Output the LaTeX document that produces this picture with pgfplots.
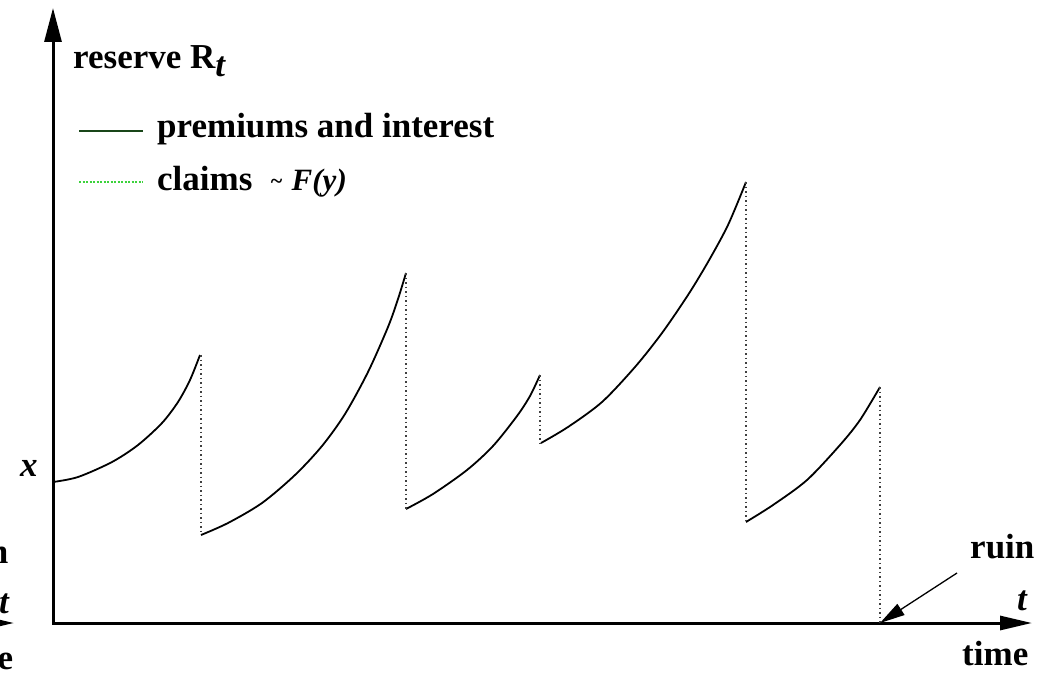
\documentclass[border=0pt]{standalone}
\usepackage{fontspec}
\setmainfont{Liberation Serif}
\usepackage{pgfplots}
\pgfplotsset{compat=1.18}
\usetikzlibrary{arrows.meta}
\tikzset{
  lab/.style={font=\fontsize{35}{40}\selectfont\bfseries, inner sep=0pt, anchor=base west},
  labi/.style={font=\fontsize{35}{40}\selectfont\bfseries\itshape, inner sep=0pt, anchor=base west},
  claim/.style={line width=1.3pt, black!75, dash pattern=on 1.5pt off 3pt},
  prem/.style={line width=1.8pt, black, smooth},
}
\begin{document}
\begin{tikzpicture}
\begin{axis}[
  width=1054pt, height=677pt, scale only axis,
  xmin=0, xmax=1054, ymin=0, ymax=677, y dir=reverse,
  hide axis, clip=false,
]
% axes
\addplot[line width=3pt, -{Triangle[length=34pt,width=17pt]}] coordinates {(53,623) (53,8)};
\addplot[line width=3pt, -{Triangle[length=32pt,width=14pt]}] coordinates {(52,623) (1032,623)};
% remnant of the panel on the left
\addplot[line width=3pt, -{Triangle[length=32pt,width=14pt]}] coordinates {(-100,623) (14,623)};

% premiums and interest
\addplot[prem] coordinates {(53,482) (78,477) (112,462) (138,445) (162,423) (178,402) (190,380) (200,355)};
\addplot[prem] coordinates {(201,535) (228,523) (262,503) (295,475) (322,446) (345,414) (368,372) (388,327) (398,299) (406,273)};
\addplot[prem] coordinates {(406,509) (433,494) (467,470) (493,446) (517,416) (530,396) (540,375)};
\addplot[prem] coordinates {(541,443) (568,427) (602,402) (635,367) (662,333) (688,295) (708,262) (728,225) (746,182)};
\addplot[prem] coordinates {(746,522) (773,505) (807,480) (840,445) (860,420) (880,387)};

% claims
\addplot[claim] coordinates {(201,355) (201,535)};
\addplot[claim] coordinates {(406,273) (406,509)};
\addplot[claim] coordinates {(540,375) (540,447)};
\addplot[claim] coordinates {(746,182) (746,522)};
\addplot[claim] coordinates {(880,387) (880,623)};

% legend
\addplot[line width=2pt, color={rgb,255:red,25;green,70;blue,25}] coordinates {(79,131) (143,131)};
\addplot[line width=1.6pt, color={rgb,255:red,60;green,210;blue,60}, dash pattern=on 2pt off 1.5pt] coordinates {(79,182) (143,182)};
\node[lab] at (axis cs:157,137) {premiums and interest};
\node[lab] at (axis cs:157,190) {claims};
\node[labi, font=\fontsize{31}{34}\selectfont\bfseries\itshape] at (axis cs:270,190) {\raisebox{2pt}{\fontsize{22}{24}\selectfont\textasciitilde}\hspace{9pt}F(y)};

% labels
\node[lab] at (axis cs:73,68) {reserve R\raisebox{-9pt}{\itshape t}};
\node[labi] at (axis cs:20,476) {x};
\node[lab] at (axis cs:970,558) {ruin};
\node[labi] at (axis cs:1017,610) {t};
\node[lab] at (axis cs:962,665) {time};
\addplot[line width=1.3pt, -{Triangle[length=25pt,width=13pt]}] coordinates {(957,573) (880,623)};

% remnants of the panel on the left
\node[lab] at (axis cs:-56,563) {ruin};
\node[labi] at (axis cs:-1,613) {t};
\node[lab] at (axis cs:-53,669) {time};
\end{axis}
\pgfresetboundingbox
\path[use as bounding box] (current axis.south west) rectangle (current axis.north east);
\end{tikzpicture}
\end{document}
